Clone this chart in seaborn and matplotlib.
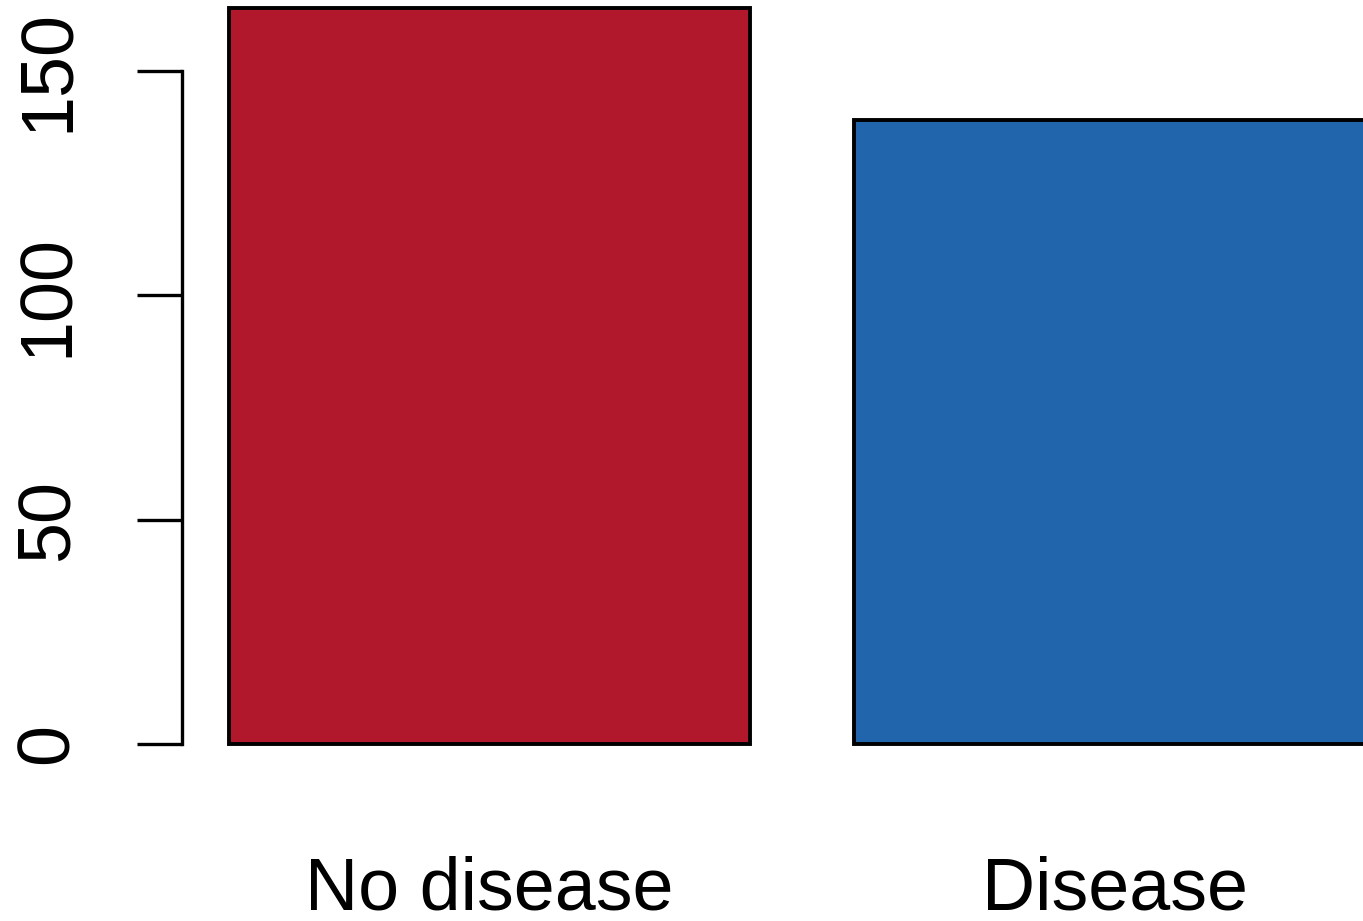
import matplotlib
matplotlib.use("Agg")
import matplotlib.pyplot as plt
import seaborn as sns
import pandas as pd

# Patient counts by outcome
groups = ["No disease", "Disease"]
counts = [164, 139]
bar_colors = ["#B2182B", "#2166AC"]
y_ticks = [0, 50, 100, 150]

sns.set_style("white")
plt.rcParams["font.family"] = ["Liberation Sans", "DejaVu Sans"]

df = pd.DataFrame({"group": groups, "count": counts})

fig = plt.figure(figsize=(13.63, 9.21), dpi=100)
ax = fig.add_axes([0.0, 0.1922, 1.0, 0.8078])

sns.barplot(data=df, x="group", y="count", hue="group", palette=bar_colors,
            order=groups, hue_order=groups, width=1 / 1.2, dodge=False,
            saturation=1, edgecolor="black", linewidth=2.8, legend=False, ax=ax)

for p in ax.patches:
    p.set_clip_on(False)

ax.set_xlim(-0.7829, 1.3972)
ax.set_ylim(0, 165.82)

for side in ["top", "right", "bottom"]:
    ax.spines[side].set_visible(False)
ax.spines["left"].set_position(("data", -0.4918))
ax.spines["left"].set_bounds(0, 150)
ax.spines["left"].set_linewidth(2.4)
ax.spines["left"].set_color("black")

ax.set_yticks(y_ticks)
ax.set_yticklabels([str(v) for v in y_ticks], rotation=90, va="center")
ax.tick_params(axis="y", direction="out", length=32.4, width=2.4,
               color="black", labelcolor="black", labelsize=53, pad=39, left=True)
ax.tick_params(axis="x", length=0, labelsize=53, labelcolor="black", pad=80)

ax.set_xlabel("")
ax.set_ylabel("")
ax.grid(False)

fig.savefig("out.png", dpi=100)
